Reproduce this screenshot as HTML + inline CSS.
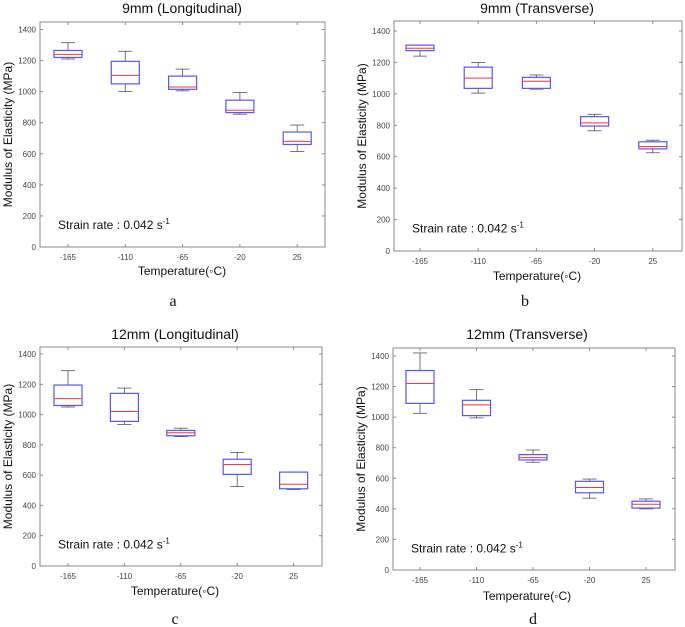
<!DOCTYPE html>
<html><head><meta charset="utf-8"><style>
body{margin:0;background:#fff;}
svg{display:block;font-family:"Liberation Sans",sans-serif;}
</style></head><body>
<svg id="fig" width="685" height="627" viewBox="0 0 685 627"></svg>
<script>
const categories = ["-165","-110","-65","-20","25"];
const yTicks = [0,200,400,600,800,1000,1200,1400];
// [min, q1, median, q3, max]
const seriesA = [[1210,1220,1240,1265,1315],[1000,1050,1105,1195,1260],[1005,1015,1030,1100,1145],[855,865,880,945,995],[615,660,680,740,785]];
const seriesB = [[1240,1275,1290,1310,1310],[1005,1035,1100,1170,1200],[1030,1035,1080,1105,1120],[765,795,815,855,870],[625,650,665,695,705]];
const seriesC = [[1050,1060,1105,1195,1290],[935,955,1020,1140,1175],[855,860,880,895,910],[525,605,670,705,750],[505,510,540,620,620]];
const seriesD = [[1025,1090,1220,1305,1420],[995,1010,1080,1110,1180],[705,720,735,755,785],[470,505,540,580,595],[400,405,430,450,465]];
const titles = ["9mm (Longitudinal)","9mm (Transverse)","12mm (Longitudinal)","12mm (Transverse)"];
const letters = ["a","b","c","d"];

const NS="http://www.w3.org/2000/svg";
const svg=document.getElementById('fig');
function mk(tag,attrs,parent,text){const e=document.createElementNS(NS,tag);for(const k in attrs)e.setAttribute(k,attrs[k]);if(text!==undefined)e.textContent=text;parent.appendChild(e);return e;}

const panels=[
 {data:seriesA,L:40,R:325,T:22,B:247,y1400:29.5,x0:68,dx:57.3,title:[182,13],xl:[182,275],letter:[173,306],id:"a"},
 {data:seriesB,L:394,R:682,T:21,B:251,y1400:31,x0:420,dx:58.2,title:[537,13],xl:[537,280],letter:[525,306],id:"b"},
 {data:seriesC,L:40,R:322,T:347,B:566,y1400:354,x0:68,dx:56.4,title:[175,339],xl:[175,595],letter:[175,624],id:"c"},
 {data:seriesD,L:393,R:675,T:348,B:570,y1400:356,x0:420,dx:56.5,title:[527,339],xl:[527,600],letter:[533,624],id:"d"}
];

panels.forEach((p,pi)=>{
 const g=mk('g',{},svg);
 
 
 const ys=v=>p.B-(v/1400)*(p.B-p.y1400);
 const xs=i=>p.x0+i*p.dx;
 const ax=mk('rect',{x:p.L,y:p.T,width:p.R-p.L,height:p.B-p.T,fill:'none',stroke:'#888','stroke-width':1},g);
 
 
 yTicks.forEach(t=>{
  const y=ys(t);
  mk('line',{x1:p.L,x2:p.L+3,y1:y,y2:y,stroke:'#888'},g);
  mk('line',{x1:p.R,x2:p.R-3,y1:y,y2:y,stroke:'#888'},g);
  const tl=mk('text',{x:p.L-4,y:y+3,'font-size':8,fill:'#444','text-anchor':'end'},g,String(t));
  
  
 });
 categories.forEach((c,i)=>{
  const x=xs(i);
  mk('line',{x1:x,x2:x,y1:p.B,y2:p.B-3,stroke:'#888'},g);
  mk('line',{x1:x,x2:x,y1:p.T,y2:p.T+3,stroke:'#888'},g);
  const tl=mk('text',{x:x,y:p.B+13,'font-size':8,fill:'#444','text-anchor':'middle'},g,c);
  
  
  const d=p.data[i];const w=28;
  const bg=mk('g',{},g);
  
  
  mk('line',{x1:x,x2:x,y1:ys(d[0]),y2:ys(d[1]),stroke:'#555','stroke-width':0.8},bg);
  mk('line',{x1:x,x2:x,y1:ys(d[3]),y2:ys(d[4]),stroke:'#555','stroke-width':0.8},bg);
  mk('line',{x1:x-7,x2:x+7,y1:ys(d[0]),y2:ys(d[0]),stroke:'#555','stroke-width':0.8},bg);
  mk('line',{x1:x-7,x2:x+7,y1:ys(d[4]),y2:ys(d[4]),stroke:'#555','stroke-width':0.8},bg);
  mk('rect',{x:x-w/2,y:ys(d[3]),width:w,height:ys(d[1])-ys(d[3]),fill:'#fff',stroke:'#5555ff','stroke-width':1.2},bg);
  mk('line',{x1:x-w/2,x2:x+w/2,y1:ys(d[2]),y2:ys(d[2]),stroke:'#ff3333','stroke-width':1},bg);
 });
 const ti=mk('text',{x:p.title[0],y:p.title[1],'font-size':14,fill:'#111','text-anchor':'middle'},g,titles[pi]);
 
 
 const yl=mk('text',{x:0,y:0,'font-size':12,fill:'#111','text-anchor':'middle',transform:`translate(${p.L-28},${(p.T+p.B)/2}) rotate(-90)`},g,'Modulus of Elasticity (MPa)');
 
 
 const xl=mk('text',{x:p.xl[0],y:p.xl[1],'font-size':12,fill:'#111','text-anchor':'middle'},g,'Temperature(\u25E6C)');
 
 
 const sr=mk('text',{x:p.L+18,y:ys(200)+13,'font-size':12,fill:'#111'},g);
 
 
 sr.textContent='Strain rate : 0.042 s';
 mk('tspan',{dy:-5,'font-size':8},sr,'-1');
 const le=mk('text',{x:p.letter[0],y:p.letter[1],'font-size':16,fill:'#111','text-anchor':'middle','font-family':'Liberation Serif, serif'},g,letters[pi]);
 
 
});
</script>
</body></html>
